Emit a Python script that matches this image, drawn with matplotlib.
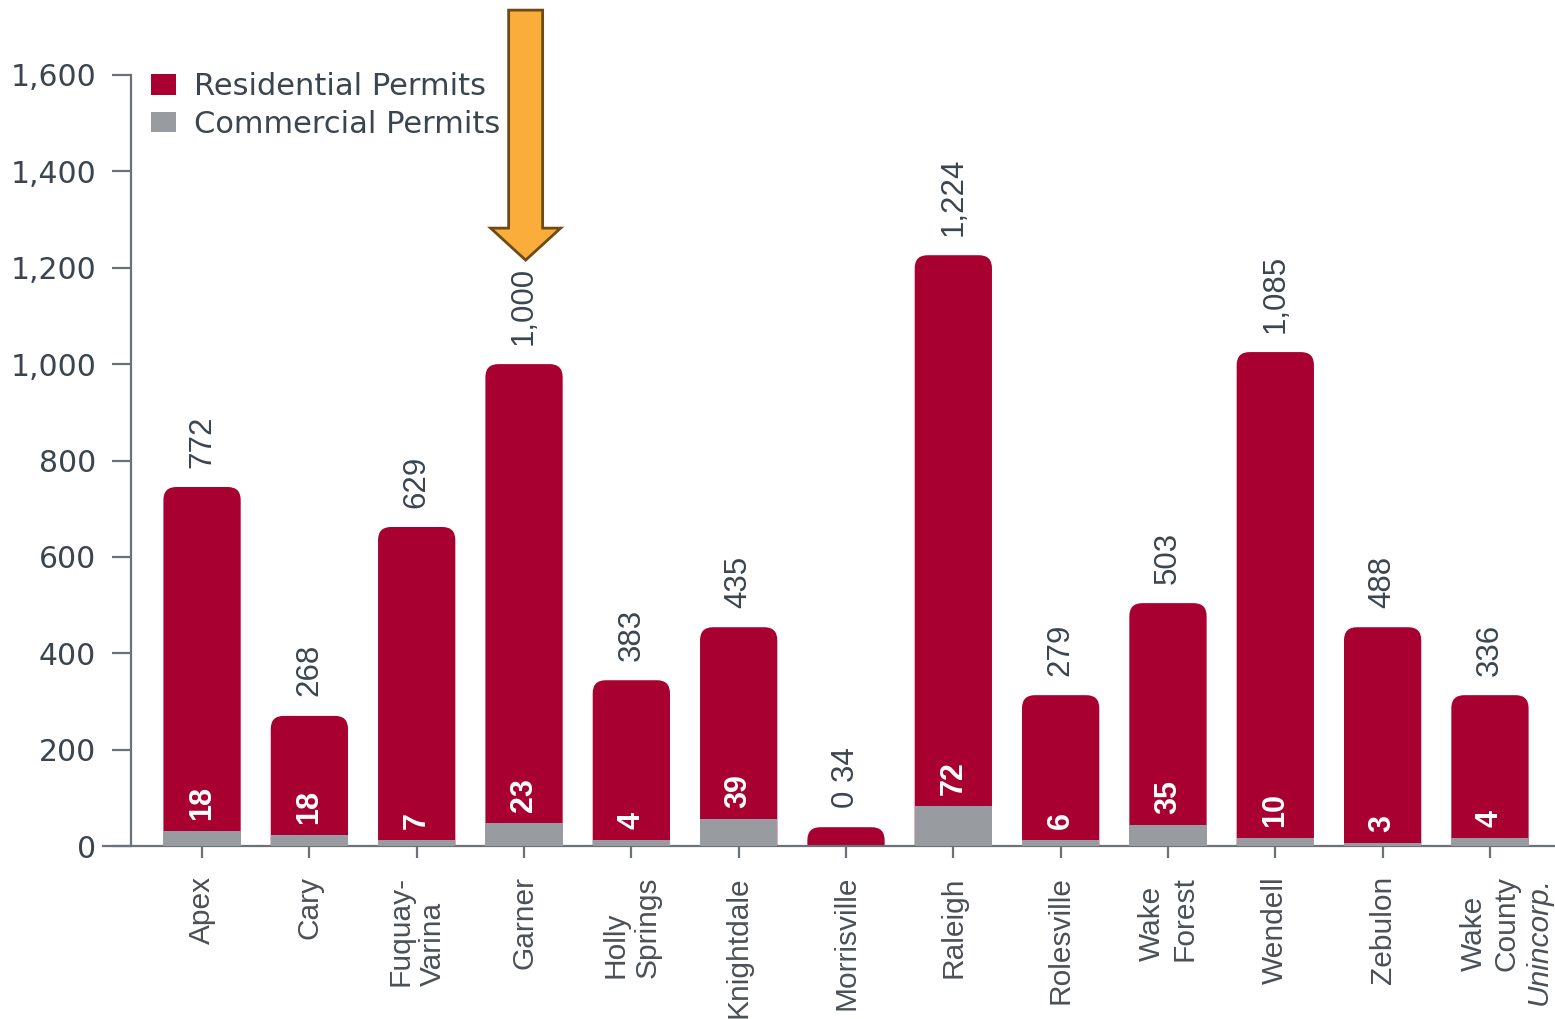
import matplotlib
matplotlib.use("Agg")
import matplotlib.pyplot as plt
from matplotlib.path import Path
from matplotlib.patches import PathPatch, Patch, FancyArrow
import numpy as np

# ---- data ----
categories = ["Apex", "Cary", "Fuquay-\nVarina", "Garner", "Holly\nSprings", "Knightdale",
              "Morrisville", "Raleigh", "Rolesville", "Wake\nForest", "Wendell", "Zebulon",
              "Wake\nCounty"]
residential_values = [772, 268, 629, 1000, 383, 435, 34, 1224, 279, 503, 1085, 488, 336]
commercial_values = [18, 18, 7, 23, 4, 39, 0, 72, 6, 35, 10, 3, 4]
# bar heights as drawn in the picture
residential_bars = [745, 270, 662, 1000, 344, 454, 39, 1226, 313, 504, 1025, 454, 313]
commercial_bars = [31, 23, 12, 48, 12, 56, 0, 83, 12, 44, 17, 6, 17]
yticks = [0, 200, 400, 600, 800, 1000, 1200, 1400, 1600]
highlight = "Garner"

RED = "#A80030"
GRAY = "#989CA1"
SPINE = "#6B7177"
TXT = "#3A4550"
CAT = "#4B5057"

W, H = 1555, 1019
fig = plt.figure(figsize=(W / 100, H / 100), dpi=100)
fig.patch.set_facecolor("white")
ax_l, ax_r, ax_t, ax_b = 131, 1555, 75, 846
ax = fig.add_axes([ax_l / W, 1 - ax_b / H, (ax_r - ax_l) / W, (ax_b - ax_t) / H])

x = np.arange(len(categories))
xmin, xmax = -0.662, 12.606
ax.set_xlim(xmin, xmax)
ax.set_ylim(0, 1600)

px_x = (ax_r - ax_l) / (xmax - xmin)
px_y = (ax_b - ax_t) / 1600.0

bw = 0.72
r_px = 13
rx, ry = r_px / px_x, r_px / px_y

bars = ax.bar(x, residential_bars, width=bw, color=RED, zorder=2)
for rect in bars:
    x0, w, h = rect.get_x(), rect.get_width(), rect.get_height()
    rect.set_visible(False)
    r_y = min(ry, h)
    verts = [(x0, 0), (x0, h - r_y), (x0, h), (x0 + rx, h), (x0 + w - rx, h),
             (x0 + w, h), (x0 + w, h - r_y), (x0 + w, 0), (x0, 0)]
    codes = [Path.MOVETO, Path.LINETO, Path.CURVE3, Path.CURVE3, Path.LINETO,
             Path.CURVE3, Path.CURVE3, Path.LINETO, Path.CLOSEPOLY]
    ax.add_patch(PathPatch(Path(verts, codes), facecolor=RED, edgecolor="none", zorder=2))

ax.bar(x, commercial_bars, width=bw, color=GRAY, zorder=3)

# labels above bars
for i, (v, c, hb) in enumerate(zip(residential_values, commercial_values, residential_bars)):
    s = f"{v:,}"
    if commercial_bars[i] == 0:
        s = f"{c} {s}"
    ax.annotate(s, xy=(i, hb), xytext=(0, 14), textcoords="offset points",
                rotation=90, ha="center", va="bottom", fontsize=22.5,
                family="Liberation Sans", color=TXT, zorder=5)

# commercial labels inside bars
for i, (c, cb) in enumerate(zip(commercial_values, commercial_bars)):
    if cb == 0:
        continue
    ax.annotate(str(c), xy=(i, cb), xytext=(0, 8), textcoords="offset points",
                rotation=90, ha="center", va="bottom", fontsize=22, fontweight="bold",
                family="Liberation Sans", color="white", zorder=5)

# axes styling
for s in ["top", "right"]:
    ax.spines[s].set_visible(False)
for s in ["left", "bottom"]:
    ax.spines[s].set_color(SPINE)
    ax.spines[s].set_linewidth(1.6)
ax.spines["bottom"].set_bounds(xmin - 28 / px_x, xmax)

ax.set_yticks(yticks)
ax.set_yticklabels([f"{t:,}" for t in yticks], family="DejaVu Sans", fontsize=21.5, color=TXT)
ax.tick_params(axis="y", length=14, width=1.6, color=SPINE, pad=11)

ax.set_xticks(x)
ax.set_xticklabels(categories, rotation=90, ha="center", va="top", multialignment="left",
                   family="Liberation Sans", fontsize=21.5, color=CAT)
ax.tick_params(axis="x", length=8.6, width=1.6, color=SPINE, pad=13)

# italic third line for Wake County
ax.annotate("Unincorp.", xy=(len(categories) - 1, 0), xytext=(35, -22.5),
            textcoords="offset points", rotation=90, ha="center", va="top",
            family="Liberation Sans", style="italic", fontsize=21.5, color=CAT,
            annotation_clip=False)

# legend
handles = [Patch(facecolor=RED, edgecolor="none", label="Residential Permits"),
           Patch(facecolor=GRAY, edgecolor="none", label="Commercial Permits")]
leg = ax.legend(handles=handles, loc="upper left", bbox_to_anchor=(151 / W, 1 - 72 / H),
                bbox_transform=fig.transFigure, frameon=False, fontsize=22,
                handlelength=0.82, handleheight=0.66, handletextpad=0.59,
                labelspacing=0.28, borderpad=0, borderaxespad=0)
for t in leg.get_texts():
    t.set_color(TXT)
    t.set_family("DejaVu Sans")

# highlight arrow pointing at Garner
hi = categories.index(highlight)
tip = residential_bars[hi] + 104 / px_y
start = residential_bars[hi] + 354 / px_y
arr = FancyArrow(hi + 0.015, start, 0, tip - start, width=34 / px_x, head_width=70 / px_x,
                 head_length=32 / px_y, length_includes_head=True,
                 facecolor="#FBAD3B", edgecolor="#6E4B14", linewidth=2, zorder=6,
                 clip_on=False)
ax.add_patch(arr)

fig.savefig("out.png", dpi=100, facecolor="white")
